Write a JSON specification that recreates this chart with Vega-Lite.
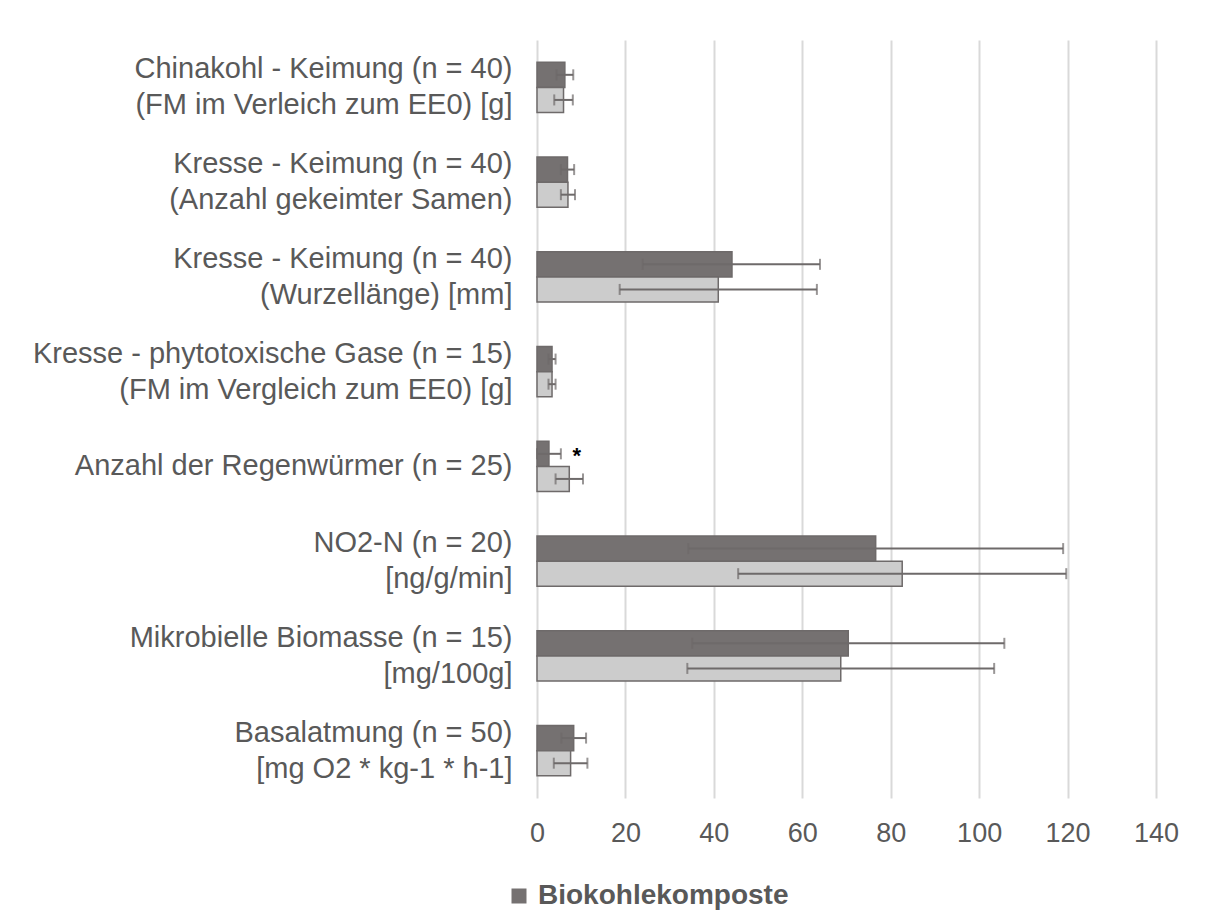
{
  "$schema": "https://vega.github.io/schema/vega-lite/v6.json",
  "autosize": "none",
  "width": 619,
  "height": 758,
  "padding": {"left": 537, "top": 40, "right": 58, "bottom": 125},
  "background": "white",
  "config": {
    "font": "Liberation Sans",
    "view": {"stroke": null}
  },
  "data": {
    "values": [
      {"cat": "Chinakohl - Keimung (n = 40)|(FM im Verleich zum EE0) [g]", "series": "Biokohlekomposte", "mean": 6.3, "lo": 4.4, "hi": 8.2, "sig": ""},
      {"cat": "Chinakohl - Keimung (n = 40)|(FM im Verleich zum EE0) [g]", "series": "Referenzkomposte", "mean": 6.0, "lo": 3.9, "hi": 8.1, "sig": ""},
      {"cat": "Kresse - Keimung (n = 40)|(Anzahl gekeimter Samen)", "series": "Biokohlekomposte", "mean": 6.9, "lo": 5.4, "hi": 8.4, "sig": ""},
      {"cat": "Kresse - Keimung (n = 40)|(Anzahl gekeimter Samen)", "series": "Referenzkomposte", "mean": 7.0, "lo": 5.4, "hi": 8.6, "sig": ""},
      {"cat": "Kresse - Keimung (n = 40)|(Wurzellänge) [mm]", "series": "Biokohlekomposte", "mean": 44.1, "lo": 23.9, "hi": 64.0, "sig": ""},
      {"cat": "Kresse - Keimung (n = 40)|(Wurzellänge) [mm]", "series": "Referenzkomposte", "mean": 41.0, "lo": 18.7, "hi": 63.3, "sig": ""},
      {"cat": "Kresse - phytotoxische Gase (n = 15)|(FM im Vergleich zum EE0) [g]", "series": "Biokohlekomposte", "mean": 3.4, "lo": 2.6, "hi": 4.2, "sig": ""},
      {"cat": "Kresse - phytotoxische Gase (n = 15)|(FM im Vergleich zum EE0) [g]", "series": "Referenzkomposte", "mean": 3.4, "lo": 2.6, "hi": 4.2, "sig": ""},
      {"cat": "Anzahl der Regenwürmer (n = 25)", "series": "Biokohlekomposte", "mean": 2.7, "lo": 0.0, "hi": 5.4, "sig": "*"},
      {"cat": "Anzahl der Regenwürmer (n = 25)", "series": "Referenzkomposte", "mean": 7.3, "lo": 4.2, "hi": 10.4, "sig": ""},
      {"cat": "NO2-N (n = 20)|[ng/g/min]", "series": "Biokohlekomposte", "mean": 76.6, "lo": 34.2, "hi": 119.0, "sig": ""},
      {"cat": "NO2-N (n = 20)|[ng/g/min]", "series": "Referenzkomposte", "mean": 82.6, "lo": 45.5, "hi": 119.7, "sig": ""},
      {"cat": "Mikrobielle Biomasse (n = 15)|[mg/100g]", "series": "Biokohlekomposte", "mean": 70.4, "lo": 35.1, "hi": 105.7, "sig": ""},
      {"cat": "Mikrobielle Biomasse (n = 15)|[mg/100g]", "series": "Referenzkomposte", "mean": 68.7, "lo": 34.0, "hi": 103.4, "sig": ""},
      {"cat": "Basalatmung (n = 50)|[mg O2 * kg-1 * h-1]", "series": "Biokohlekomposte", "mean": 8.3, "lo": 5.5, "hi": 11.1, "sig": ""},
      {"cat": "Basalatmung (n = 50)|[mg O2 * kg-1 * h-1]", "series": "Referenzkomposte", "mean": 7.6, "lo": 3.8, "hi": 11.4, "sig": ""}
    ]
  },
  "encoding": {
    "y": {
      "field": "cat",
      "type": "nominal",
      "sort": null,
      "title": null,
      "scale": {"paddingInner": 0.47, "paddingOuter": 0.235},
      "axis": {
        "labelExpr": "split(datum.label, '|')",
        "labelFontSize": 29,
        "labelColor": "#595959",
        "labelLineHeight": 36,
        "labelPadding": 25,
        "labelLimit": 600,
        "labelOffset": {"condition": {"test": "indexof(datum.value, '|') >= 0", "value": -18}, "value": 0},
        "ticks": false,
        "domain": false
      }
    },
    "yOffset": {
      "field": "series",
      "type": "nominal",
      "sort": ["Biokohlekomposte", "Referenzkomposte"],
      "scale": {"paddingInner": 0, "paddingOuter": 0}
    }
  },
  "layer": [
    {
      "mark": {"type": "bar", "strokeWidth": 1.5, "stroke": "#6e6a6a"},
      "encoding": {
        "x": {
          "field": "mean",
          "type": "quantitative",
          "title": null,
          "scale": {"domain": [0, 140], "nice": false},
          "axis": {
            "values": [0, 20, 40, 60, 80, 100, 120, 140],
            "labelFontSize": 27,
            "labelColor": "#595959",
            "labelPadding": 22,
            "labelFlush": false,
            "labelOverlap": false,
            "ticks": false,
            "domain": false,
            "gridColor": "#d9d9d9",
            "gridWidth": 2
          }
        },
        "fill": {
          "field": "series",
          "type": "nominal",
          "scale": {"domain": ["Biokohlekomposte", "Referenzkomposte"], "range": ["#757171", "#cccccc"]},
          "legend": {
            "values": ["Biokohlekomposte"],
            "title": null,
            "orient": "none",
            "legendX": -32,
            "legendY": 842,
            "symbolType": "square",
            "symbolSize": 225,
            "symbolStrokeWidth": 0,
            "labelFontSize": 28,
            "labelFontWeight": "bold",
            "labelColor": "#595959",
            "labelOffset": 5,
            "labelLimit": 500
          }
        }
      }
    },
    {
      "mark": {"type": "rule", "color": "#6e6a6a", "strokeWidth": 2},
      "encoding": {
        "x": {"field": "lo", "type": "quantitative"},
        "x2": {"field": "hi"}
      }
    },
    {
      "mark": {"type": "tick", "orient": "vertical", "color": "#6e6a6a", "thickness": 2, "size": 11},
      "encoding": {
        "x": {"field": "lo", "type": "quantitative"}
      }
    },
    {
      "mark": {"type": "tick", "orient": "vertical", "color": "#6e6a6a", "thickness": 2, "size": 11},
      "encoding": {
        "x": {"field": "hi", "type": "quantitative"}
      }
    },
    {
      "mark": {"type": "text", "fontSize": 22, "fontWeight": "bold", "color": "#000000", "align": "center", "dx": 16, "dy": 2},
      "encoding": {
        "x": {"field": "hi", "type": "quantitative"},
        "text": {"field": "sig"}
      }
    }
  ]
}
